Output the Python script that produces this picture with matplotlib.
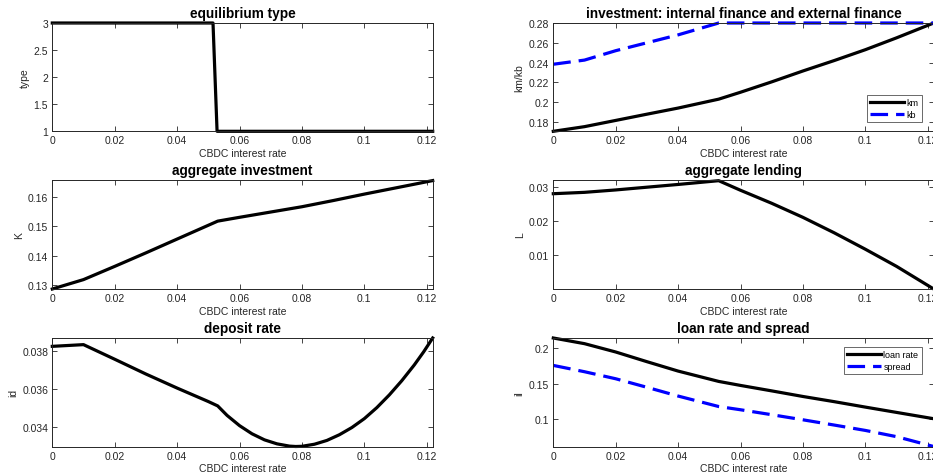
import matplotlib
matplotlib.use("Agg")
import matplotlib.pyplot as plt
from matplotlib.ticker import FuncFormatter

plt.rcParams['font.family'] = ['Liberation Sans', 'DejaVu Sans']

# ---- data ----
x_type = [0.0, 0.0515, 0.0528, 0.1219]
eq_type = [3, 3, 1, 1]

x_k = [0.0, 0.01, 0.02, 0.03, 0.04, 0.053, 0.06, 0.07, 0.08, 0.09, 0.1, 0.11, 0.1219]
km = [0.1705, 0.1752, 0.1815, 0.1878, 0.1940, 0.2030, 0.2100, 0.2205, 0.2315, 0.2420, 0.2530, 0.2650, 0.2800]
kb = [0.2383, 0.2425, 0.2520, 0.2600, 0.2680, 0.2800, 0.2800, 0.2800, 0.2800, 0.2800, 0.2800, 0.2800, 0.2800]

x_K = [0.0, 0.01, 0.02, 0.03, 0.04, 0.053, 0.06, 0.07, 0.08, 0.09, 0.1, 0.11, 0.1219]
K = [0.1286, 0.1318, 0.1363, 0.1409, 0.1456, 0.1517, 0.1530, 0.1548, 0.1566, 0.1587, 0.1609, 0.1630, 0.1655]

x_L = [0.0, 0.01, 0.02, 0.03, 0.04, 0.053, 0.06, 0.07, 0.08, 0.09, 0.1, 0.11, 0.1219]
L = [0.0280, 0.0284, 0.0291, 0.0299, 0.0307, 0.0318, 0.0290, 0.0252, 0.0211, 0.0166, 0.0118, 0.0068, 0.0002]

x_id = [0.0, 0.01, 0.02, 0.03, 0.04, 0.05, 0.053, 0.056, 0.06, 0.064, 0.068, 0.072, 0.076, 0.078,
        0.080, 0.084, 0.088, 0.092, 0.096, 0.1, 0.104, 0.108, 0.112, 0.116, 0.119, 0.1219]
deposit = [0.03826, 0.03835, 0.03758, 0.03680, 0.03606, 0.03535, 0.03512, 0.03462, 0.03408, 0.03365,
           0.03333, 0.03312, 0.03300, 0.03298, 0.03299, 0.03310, 0.03330, 0.03360, 0.03398, 0.03445,
           0.03503, 0.03570, 0.03645, 0.03728, 0.03797, 0.03870]

x_il = [0.0, 0.01, 0.02, 0.03, 0.04, 0.053, 0.06, 0.07, 0.08, 0.09, 0.1, 0.11, 0.1219]
loan_rate = [0.2135, 0.2056, 0.1940, 0.1805, 0.1674, 0.1530, 0.1474, 0.1398, 0.1320, 0.1248, 0.1172, 0.1098, 0.1010]
spread = [0.1753, 0.1665, 0.1567, 0.1448, 0.1326, 0.1180, 0.1135, 0.1066, 0.0995, 0.0922, 0.0847, 0.0760, 0.0623]

xticks = [0, 0.02, 0.04, 0.06, 0.08, 0.1, 0.12]
xlim = (0, 0.1219)

W, H = 933, 477
fig = plt.figure(figsize=(W / 100, H / 100), dpi=100)

def ax_at(l, t, r, b):
    return fig.add_axes([l / W, 1 - b / H, (r - l) / W, (b - t) / H])

axw = 380.4
lefts = [52.3, 553.3]
rows = [(24, 132.3), (181, 290), (339, 447.5)]

axes = []
for (t, b) in rows:
    for l in lefts:
        axes.append(ax_at(l, t, l + axw, b))

fmt = FuncFormatter(lambda v, p: ('%g' % round(v, 6)))
edge = '#262626'
lw = 2.3
dash = (5.5, 2.5)

def style(ax, title, ylabel, ylim, yticks):
    ax.set_xlim(*xlim)
    ax.set_ylim(*ylim)
    ax.set_xticks(xticks)
    ax.set_yticks(yticks)
    ax.xaxis.set_major_formatter(fmt)
    ax.yaxis.set_major_formatter(fmt)
    ax.tick_params(direction='in', top=True, right=True, length=3.5, width=0.6,
                   labelsize=7.5, colors=edge, pad=3)
    for s in ax.spines.values():
        s.set_color(edge)
        s.set_linewidth(0.7)
    ax.set_title(title, fontsize=9.8, fontweight='bold', pad=4)
    ax.set_xlabel('CBDC interest rate', fontsize=7.5, color=edge, labelpad=2)
    ax.set_ylabel(ylabel, fontsize=7.5, color=edge, labelpad=3)

def legend(ax, loc, anchor):
    leg = ax.legend(loc=loc, bbox_to_anchor=anchor, fontsize=6.5, frameon=True,
                    fancybox=False, edgecolor=edge, handlelength=3.8, handletextpad=0.25,
                    borderpad=0.35, labelspacing=0.3, borderaxespad=0)
    leg.get_frame().set_linewidth(0.6)

a = axes[0]
a.plot(x_type, eq_type, color='k', lw=lw, clip_on=False)
style(a, 'equilibrium type', 'type', (1, 3), [1, 1.5, 2, 2.5, 3])

a = axes[1]
a.plot(x_k, km, color='k', lw=lw, label='km', clip_on=False)
a.plot(x_k, kb, color='#0000ff', lw=lw, dashes=dash, label='kb', clip_on=False)
style(a, 'investment: internal finance and external finance', 'km/kb', (0.1705, 0.28),
      [0.18, 0.2, 0.22, 0.24, 0.26, 0.28])
legend(a, 'lower right', (0.968, 0.085))

a = axes[2]
a.plot(x_K, K, color='k', lw=lw, clip_on=False)
style(a, 'aggregate investment', 'K', (0.1286, 0.1657), [0.13, 0.14, 0.15, 0.16])

a = axes[3]
a.plot(x_L, L, color='k', lw=lw, clip_on=False)
style(a, 'aggregate lending', 'L', (0.0002, 0.032), [0.01, 0.02, 0.03])

a = axes[4]
a.plot(x_id, deposit, color='k', lw=lw, clip_on=False)
style(a, 'deposit rate', 'id', (0.03298, 0.0387), [0.034, 0.036, 0.038])

a = axes[5]
a.plot(x_il, loan_rate, color='k', lw=lw, label='loan rate', clip_on=False)
a.plot(x_il, spread, color='#0000ff', lw=lw, dashes=dash, label='spread', clip_on=False)
style(a, 'loan rate and spread', 'il', (0.0623, 0.2135), [0.1, 0.15, 0.2])
legend(a, 'upper right', (0.968, 0.915))

fig.savefig('out.png', dpi=100)
